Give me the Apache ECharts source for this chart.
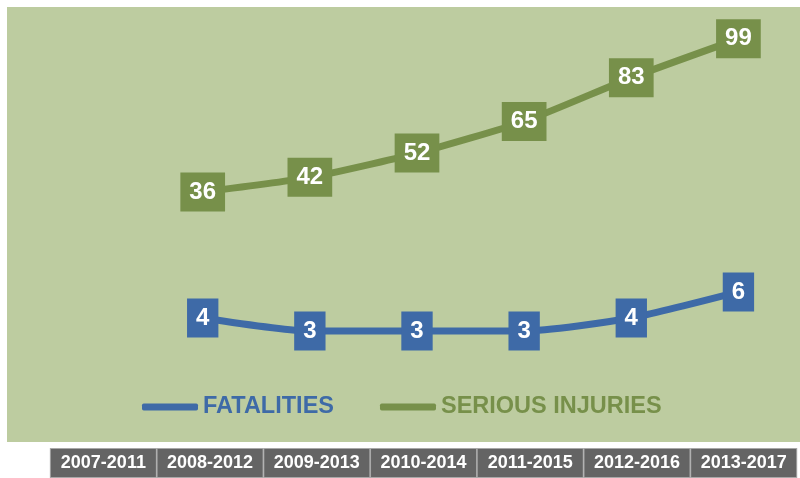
<!DOCTYPE html>
<html>
<head>
<meta charset="utf-8">
<script src="https://cdn.jsdelivr.net/npm/echarts@6/dist/echarts.min.js"></script>
<style>
  html, body { margin: 0; padding: 0; background: #ffffff; }
  #main { width: 800px; height: 478px; }
</style>
</head>
<body>
<div id="main"></div>
<script>
// five-year periods along the bottom
var periods = ['2007-2011', '2008-2012', '2009-2013', '2010-2014', '2011-2015', '2012-2016', '2013-2017'];

// first period has no value in the picture
var fatalities = [null, 4, 3, 3, 3, 4, 6];
var seriousInjuries = [null, 36, 42, 52, 65, 83, 99];

var blue = '#3E6AA7',
    green = '#77904A';

var myChart = echarts.init(document.getElementById('main'));

function pointLabel(color) {
    return {
        show: true,
        position: 'inside',
        color: '#ffffff',
        fontFamily: 'Liberation Sans, Arial, sans-serif',
        fontWeight: 'bold',
        fontSize: 24,
        lineHeight: 25,
        backgroundColor: color,
        padding: [7, 9, 7, 9]
    };
}

var option = {
    animation: false,
    graphic: [{
        type: 'rect',
        shape: { x: 7, y: 7, width: 793, height: 435 },
        style: { fill: '#BDCCA0' },
        z: -10
    }],
    legend: {
        left: 137,
        top: 390,
        itemWidth: 56,
        itemHeight: 7,
        itemGap: 46,
        icon: 'roundRect',
        textStyle: {
            fontFamily: 'Liberation Sans, Arial, sans-serif',
            fontWeight: 'bold',
            fontSize: 23.5
        },
        data: [
            { name: 'FATALITIES', textStyle: { color: blue } },
            { name: 'SERIOUS INJURIES', textStyle: { color: green } }
        ]
    },
    grid: [
        { left: 42, right: 8, top: 7, bottom: 36 },
        { left: 50, right: 0, top: 7, bottom: 36 }
    ],
    xAxis: [{
        gridIndex: 0,
        type: 'category',
        data: periods,
        show: false
    }, {
        gridIndex: 1,
        type: 'category',
        data: periods,
        axisLine: { show: false },
        axisTick: { show: false },
        axisLabel: {
            margin: 10,
            interval: 0,
            width: 105,
            height: 28,
            lineHeight: 28,
            align: 'center',
            color: '#ffffff',
            fontFamily: 'Liberation Sans, Arial, sans-serif',
            fontWeight: 'bold',
            fontSize: 18,
            backgroundColor: '#646464',
            borderColor: '#a8a8a8',
            borderWidth: 1
        }
    }],
    yAxis: [{
        gridIndex: 0,
        type: 'value',
        min: -66.9,
        max: 112.1,
        show: false
    }, {
        gridIndex: 0,
        type: 'value',
        min: -5.54,
        max: 27.92,
        show: false
    }, {
        gridIndex: 1,
        type: 'value',
        show: false
    }],
    series: [{
        name: 'FATALITIES',
        type: 'line',
        xAxisIndex: 0,
        yAxisIndex: 1,
        data: fatalities,
        smooth: 0.2,
        symbol: 'rect',
        symbolSize: 1,
        itemStyle: { color: blue },
        lineStyle: { color: blue, width: 7 },
        label: pointLabel(blue),
        z: 3
    }, {
        name: 'SERIOUS INJURIES',
        type: 'line',
        xAxisIndex: 0,
        yAxisIndex: 0,
        data: seriousInjuries,
        smooth: 0.2,
        symbol: 'rect',
        symbolSize: 1,
        itemStyle: { color: green },
        lineStyle: { color: green, width: 7 },
        label: pointLabel(green),
        z: 3
    }]
};

myChart.setOption(option);
</script>
</body>
</html>
